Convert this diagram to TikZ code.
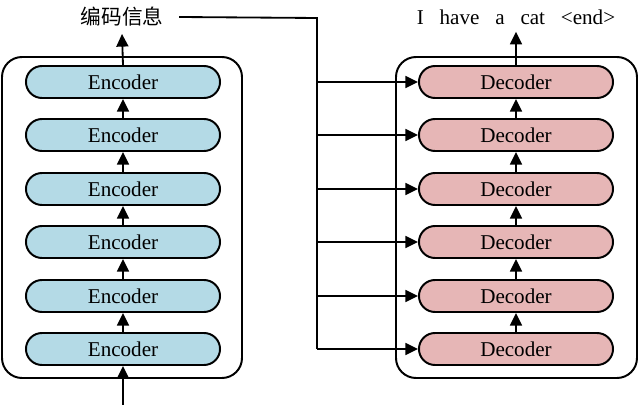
\documentclass[tikz,border=0pt]{standalone}
\usepackage{fontspec}
\setmainfont{Liberation Serif}
\newfontfamily\cjk{Noto Sans CJK SC}
\usetikzlibrary{arrows.meta, positioning}

\definecolor{encblue}{RGB}{180,218,230}
\definecolor{decred}{RGB}{230,182,182}

\begin{document}
\begin{tikzpicture}[x=0.025cm, y=-0.025cm,
        block/.style={draw, line width=1.4pt, rounded corners=0.4cm,
            minimum width=4.85cm, minimum height=0.8cm, inner sep=0pt,
            font=\fontsize{15}{18}\selectfont},
        encblock/.style={block, fill=encblue},
        decblock/.style={block, fill=decred},
        outerbox/.style={draw, line width=1.4pt, rounded corners=0.5cm},
        flow/.style={-{Triangle[length=9pt, width=8.5pt]}, line width=1.3pt},
        wire/.style={line width=1.3pt}]
    \useasboundingbox (0, 0) rectangle (640, 405);
    % outer frames
    \draw[outerbox] (2, 57) rectangle (242, 378);
    \draw[outerbox] (396, 57) rectangle (637, 378);
    % encoder stack
    \node[encblock] (enc1) at (123, 82) {Encoder};
    \node[encblock] (enc2) at (123, 135) {Encoder};
    \node[encblock] (enc3) at (123, 189) {Encoder};
    \node[encblock] (enc4) at (123, 242) {Encoder};
    \node[encblock] (enc5) at (123, 296) {Encoder};
    \node[encblock] (enc6) at (123, 349) {Encoder};
    % decoder stack
    \node[decblock] (dec1) at (516, 82) {Decoder};
    \node[decblock] (dec2) at (516, 135) {Decoder};
    \node[decblock] (dec3) at (516, 189) {Decoder};
    \node[decblock] (dec4) at (516, 242) {Decoder};
    \node[decblock] (dec5) at (516, 296) {Decoder};
    \node[decblock] (dec6) at (516, 349) {Decoder};
    % labels
    \node[font=\cjk\fontsize{14.7}{17}\selectfont, inner sep=1pt]
        (info) at (122, 17) {编码信息};
    \node[font=\fontsize{15}{18}\selectfont, inner sep=1pt]
        (words) at (516, 17)
        {I\hspace{0.5em} have\hspace{0.5em} a\hspace{0.5em} cat\hspace{0.5em} <end>};
    \coordinate (input) at (123, 405);
    \coordinate (corner) at (317, 18);
    \coordinate (bus1) at (317, 82);
    \coordinate (bus2) at (317, 135);
    \coordinate (bus3) at (317, 189);
    \coordinate (bus4) at (317, 242);
    \coordinate (bus5) at (317, 296);
    \coordinate (bus6) at (317, 349);
    % encoder arrows
    \draw[flow] (input) -- (enc6.south);
    \draw[flow] (enc6) -- (enc5);
    \draw[flow] (enc5) -- (enc4);
    \draw[flow] (enc4) -- (enc3);
    \draw[flow] (enc3) -- (enc2);
    \draw[flow] (enc2) -- (enc1);
    \draw[flow] (enc1.north) -- ([yshift=-4pt]info.south);
    % decoder arrows
    \draw[flow] (dec6) -- (dec5);
    \draw[flow] (dec5) -- (dec4);
    \draw[flow] (dec4) -- (dec3);
    \draw[flow] (dec3) -- (dec2);
    \draw[flow] (dec2) -- (dec1);
    \draw[flow] (dec1.north) -- ([yshift=-4pt]words.south);
    % encoded information to every decoder
    \draw[wire] ([xshift=10pt]info.east) -- (corner) -- (bus6);
    \draw[flow] (bus1) -- (dec1.west);
    \draw[flow] (bus2) -- (dec2.west);
    \draw[flow] (bus3) -- (dec3.west);
    \draw[flow] (bus4) -- (dec4.west);
    \draw[flow] (bus5) -- (dec5.west);
    \draw[flow] (bus6) -- (dec6.west);
\end{tikzpicture}
\end{document}
